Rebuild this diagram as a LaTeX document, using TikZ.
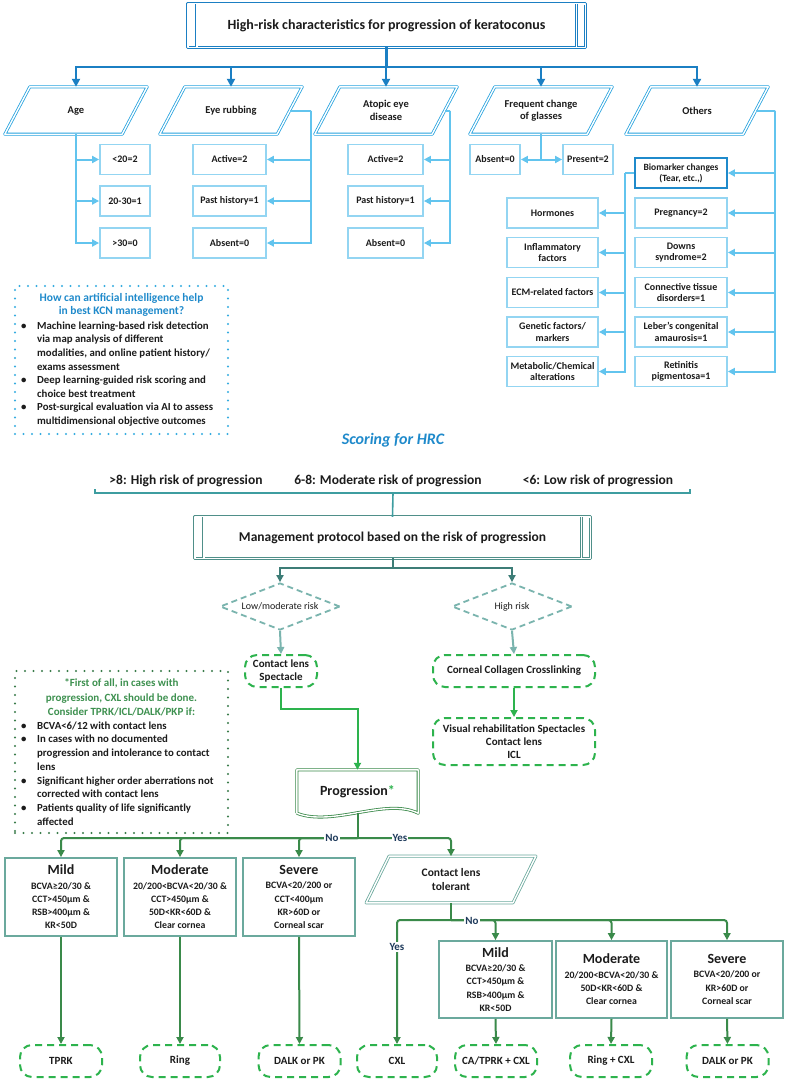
\documentclass[tikz,border=0pt]{standalone}
\usepackage{fontspec}
\setmainfont{Carlito}
\usetikzlibrary{arrows.meta,shapes.geometric,calc}
\definecolor{dblue}{HTML}{1B7FC3}
\definecolor{pblue}{HTML}{27A3DF}
\definecolor{lblue}{HTML}{93D5F2}
\definecolor{cblue}{HTML}{62C4EE}
\definecolor{tblue}{HTML}{1F8ACB}
\definecolor{aidot}{HTML}{35ACE0}
\definecolor{bteal}{HTML}{3E9DA0}
\definecolor{mgray}{HTML}{4F8F89}
\definecolor{dteal}{HTML}{3D7D77}
\definecolor{lteal}{HTML}{7AB4AE}
\definecolor{gdash}{HTML}{2DB34D}
\definecolor{gline}{HTML}{3A8A4A}
\definecolor{boxteal}{HTML}{6BA99D}
\definecolor{dgreen}{HTML}{3A7C4A}
\definecolor{tgreen}{HTML}{3E9150}
\definecolor{navy}{HTML}{1F3B5C}
\definecolor{txt}{HTML}{1C1C1C}
\newcommand\paradraw[3]{\draw[paraline=#2] (#1.south west) -- ([xshift=#3]#1.north west) -- (#1.north east) -- ([xshift=-#3]#1.south east) -- cycle;}
\newcommand\predefdraw[2]{%
  \draw[paraline=#2] (#1.north west) rectangle (#1.south east);
  \draw[paraline=#2] ([xshift=9pt]#1.north west) -- ([xshift=9pt]#1.south west);
  \draw[paraline=#2] ([xshift=-9pt]#1.north east) -- ([xshift=-9pt]#1.south east);}
\newcommand\bul{\makebox[16pt][l]{\textbullet}}
\newcommand\ind{\hspace*{16pt}}
\begin{document}
\begin{tikzpicture}[x=1pt,y=-1pt,
  paraline/.style={draw=#1, line width=.8pt, double=white, double distance=1.4pt, line join=round},
  para/.style={minimum width=142pt, minimum height=47pt, inner sep=0pt, align=center, font=\fontsize{10.5}{12.5}\selectfont\bfseries, text=txt},
  predef/.style={minimum height=#1, inner sep=0pt, align=center, text=txt},
  sbox/.style={draw=lblue, line width=1.8pt, fill=white, inner sep=1pt, align=center, font=\fontsize{10}{11.5}\selectfont\bfseries, text=txt, minimum height=30pt},
  darr/.style={draw=dblue, line width=2.2pt, -{Triangle[length=8pt,width=8pt]}},
  dline/.style={draw=dblue, line width=2.2pt},
  larr/.style={draw=cblue, line width=2pt, -{Triangle[length=7pt,width=7pt]}},
  lline/.style={draw=cblue, line width=2pt},
  dotbox/.style={draw=#1, line width=2.3pt, dash pattern=on 0pt off 8.5pt, line cap=round},
  tline/.style={draw=bteal, line width=1.6pt},
  marr/.style={draw=dteal, line width=2pt, -{Triangle[length=7pt,width=7pt]}},
  tarr/.style={draw=lteal, line width=2pt, -{Triangle[length=7pt,width=7pt]}},
  dia/.style={diamond, draw=lteal, line width=1.8pt, dash pattern=on 6pt off 4pt, aspect=2.55, inner sep=0pt, minimum width=120pt, minimum height=47pt, font=\fontsize{10}{12}\selectfont, text=txt},
  gdbox/.style={draw=gdash, line width=2pt, dash pattern=on 7pt off 5pt, rounded corners=12pt, align=center, font=\fontsize{11}{13}\selectfont\bfseries, text=txt, inner sep=1pt, minimum height=32pt},
  garr/.style={draw=gdash, line width=2pt, -{Triangle[length=7pt,width=7pt]}},
  bgarr/.style={draw=gline, line width=2pt, rounded corners=3pt, -{Triangle[length=7pt,width=7pt]}},
  bgline/.style={draw=gline, line width=2pt},
  rbox/.style={draw=boxteal, line width=1.8pt, align=center, inner sep=1pt, minimum height=78pt, font=\fontsize{9.8}{13.3}\selectfont\bfseries, text=txt},
  yn/.style={fill=white, inner sep=1pt, font=\fontsize{11}{12}\selectfont\bfseries, text=navy}
]
\useasboundingbox (0,0) rectangle (787,1082);
\fill[white] (0,0) rectangle (787,1082);

% ---------- Title ----------
\node[predef=43pt, minimum width=397pt, font=\fontsize{14}{16}\selectfont\bfseries] (title) at (386.5,25.5) {High-risk characteristics for progression of keratoconus};
\predefdraw{title}{dblue}

% ---------- Parallelograms ----------
\node[para] (age)  at (76,110.5)  {Age};
\node[para] (eye)  at (231,110.5) {Eye rubbing};
\node[para] (ato)  at (386,110.5) {Atopic eye\\disease};
\node[para] (freq) at (541,110.5) {Frequent change\\of glasses};
\node[para] (oth)  at (697,110.5) {Others};
\foreach \n in {age,eye,ato,freq,oth}{\paradraw{\n}{pblue}{25pt}}

\coordinate (tj) at (386.5,67);
\draw[dline] (title.south) -- (tj);
\foreach \n in {age,eye,ato,freq,oth}{\draw[darr] (tj) -| (\n.north);}

% ---------- Age ----------
\node[sbox, minimum width=50pt] (a1) at (125,159.5) {<20=2};
\node[sbox, minimum width=50pt] (a2) at (125,201) {20-30=1};
\node[sbox, minimum width=50pt] (a3) at (125,243) {>30=0};
\foreach \n in {a1,a2,a3}{\draw[larr] (age.south) |- (\n.west);}

% ---------- Eye rubbing ----------
\node[sbox, minimum width=73pt] (e1) at (229.5,159.5) {Active=2};
\node[sbox, minimum width=73pt] (e2) at (229.5,201) {Past history=1};
\node[sbox, minimum width=73pt] (e3) at (229.5,243) {Absent=0};
\coordinate (eyr) at (311,110.5);
\draw[lline] ([xshift=-12.5pt]eye.east) -- (eyr);
\foreach \n in {e1,e2,e3}{\draw[larr] (eyr) |- (\n.east);}

% ---------- Atopic ----------
\node[sbox, minimum width=75pt] (t1) at (385.5,159.5) {Active=2};
\node[sbox, minimum width=75pt] (t2) at (385.5,201) {Past history=1};
\node[sbox, minimum width=75pt] (t3) at (385.5,243) {Absent=0};
\coordinate (atr) at (450,110.5);
\draw[lline] ([xshift=-12.5pt]ato.east) -- (atr);
\foreach \n in {t1,t2,t3}{\draw[larr] (atr) |- (\n.east);}

% ---------- Frequent change ----------
\node[sbox, minimum width=50pt] (abs) at (495,159.5) {Absent=0};
\node[sbox, minimum width=50pt] (pres) at (588,159.5) {Present=2};
\coordinate (fj) at (541,159.5);
\draw[lline] (freq.south) -- (fj);
\draw[larr] (fj) -- (abs.east);
\draw[larr] (fj) -- (pres.west);

% ---------- Others ----------
\node[sbox, draw=tblue, minimum width=92pt, font=\fontsize{9.5}{11}\selectfont\bfseries] (bio) at (681,173) {Biomarker changes\\(Tear, etc.,)};
\node[sbox, minimum width=92pt] (preg) at (681,213) {Pregnancy=2};
\node[sbox, minimum width=92pt] (down) at (681,252.5) {Downs\\syndrome=2};
\node[sbox, minimum width=92pt] (conn) at (681,292.5) {Connective tissue\\disorders=1};
\node[sbox, minimum width=92pt] (leb) at (681,332) {Leber’s congenital\\amaurosis=1};
\node[sbox, minimum width=92pt] (ret) at (681,371.5) {Retinitis\\pigmentosa=1};
\coordinate (otr) at (775,110.5);
\draw[lline] ([xshift=-12.5pt]oth.east) -- (otr);
\foreach \n in {bio,preg,down,conn,leb,ret}{\draw[larr] (otr) |- (\n.east);}

\node[sbox, minimum width=91pt] (hor) at (552.5,213) {Hormones};
\node[sbox, minimum width=91pt] (inf) at (552.5,252.5) {Inflammatory\\factors};
\node[sbox, minimum width=91pt] (ecm) at (552.5,292.5) {ECM-related factors};
\node[sbox, minimum width=91pt] (gen) at (552.5,332) {Genetic factors/\\markers};
\node[sbox, minimum width=91pt] (met) at (552.5,371.5) {Metabolic/Chemical\\alterations};
\coordinate (bj) at (625,173);
\draw[lline] (bio.west) -- (bj);
\foreach \n in {hor,inf,ecm,gen,met}{\draw[larr] (bj) |- (\n.east);}

% ---------- AI box ----------
\node[dotbox=aidot, minimum width=213pt, minimum height=148pt] (ai) at (121.5,360) {};
\node[font=\fontsize{11.5}{13}\selectfont\bfseries, text=tblue, align=center, inner sep=0pt] (aititle) at (121.5,304.5) {How can artificial intelligence help\\in best KCN management?};
\node[anchor=north west, inner sep=0pt, align=left, font=\fontsize{10.8}{13.6}\selectfont\bfseries, text=txt] (aitext) at (21,321.5) {%
\bul Machine learning-based risk detection\\
\ind via map analysis of different\\
\ind modalities, and online patient history/\\
\ind exams assessment\\
\bul Deep learning-guided risk scoring and\\
\ind choice best treatment\\
\bul Post-surgical evaluation via AI to assess\\
\ind multidimensional objective outcomes};

% ---------- Scoring ----------
\node[font=\fontsize{16}{18}\selectfont\bfseries\itshape, text=tblue] (hrc) at (393,440) {Scoring for HRC};
\node[font=\fontsize{13.5}{15}\selectfont\bfseries, text=txt] (s1) at (186,481) {>8: High risk of progression};
\node[font=\fontsize{13.5}{15}\selectfont\bfseries, text=txt] (s2) at (388,481) {6-8: Moderate risk of progression};
\node[font=\fontsize{13.5}{15}\selectfont\bfseries, text=txt] (s3) at (598,481) {<6: Low risk of progression};
\coordinate (bl) at (95,493);
\coordinate (br) at (690,493);
\coordinate (bk) at (393,493);
\draw[tline] ([yshift=4pt]bl) -- (bl) -- (br) -- ([yshift=4pt]br);

\node[predef=41pt, minimum width=395pt, font=\fontsize{13.5}{15}\selectfont\bfseries] (mg) at (392.5,537.5) {Management protocol based on the risk of progression};
\predefdraw{mg}{mgray}
\draw[tline] (bk) -- (mg.north);

% ---------- Diamonds ----------
\node[dia] (lm) at (280,606.5) {Low/moderate risk};
\node[dia] (hr) at (512,606.5) {High risk};
\coordinate (mj) at (392.5,568);
\draw[draw=dteal, line width=2pt] (mg.south) -- (mj);
\draw[marr] (mj) -| (lm.north);
\draw[marr] (mj) -| (hr.north);

\node[gdbox, minimum width=72pt] (cls) at (281,671) {Contact lens\\Spectacle};
\node[gdbox, minimum width=162pt] (ccc) at (514,671) {Corneal Collagen Crosslinking};
\node[gdbox, minimum width=162pt, minimum height=47pt, inner sep=0pt] (vis) at (514,741.5) {Visual rehabilitation Spectacles\\Contact lens\\ICL};
\draw[tarr] (lm.south) -- (cls.north);
\draw[tarr] (hr.south) -- (ccc.north);
\draw[garr] (ccc.south) -- (vis.north);

% ---------- Progression ----------
\node[minimum width=121pt, minimum height=43pt, inner sep=0pt, font=\fontsize{14}{16}\selectfont\bfseries, text=txt] (prog) at (357.5,791.5) {\raisebox{2pt}{Progression\textcolor{gdash}{*}}};
\draw[paraline=gline] (prog.south west) -- (prog.north west) -- (prog.north east) -- (prog.south east) .. controls +(-32,-16) and +(36,14) .. (prog.south west);
\draw[garr] (cls.south) -- ++(0,21) -| (prog.north);

% ---------- First of all box ----------
\node[dotbox=dgreen, minimum width=213pt, minimum height=162pt] (fa) at (121.5,752) {};
\node[font=\fontsize{11}{14.5}\selectfont\bfseries, text=tgreen, align=center, inner sep=0pt] (fat) at (121.5,697.5) {*First of all, in cases with\\progression, CXL should be done.\\Consider TPRK/ICL/DALK/PKP if:};
\node[anchor=north west, inner sep=0pt, align=left, font=\fontsize{10.8}{13.7}\selectfont\bfseries, text=txt] (fab) at (21,721.5) {%
\bul BCVA<6/12 with contact lens\\
\bul In cases with no documented\\
\ind progression and intolerance to contact\\
\ind lens\\
\bul Significant higher order aberrations not\\
\ind corrected with contact lens\\
\bul Patients quality of life significantly\\
\ind affected};

% ---------- Lower left tree ----------
\coordinate (pj) at (357.5,838);
\draw[bgline] (prog.south) -- (pj);
\node[rbox, minimum width=112pt] (m1) at (61,897) {{\fontsize{14}{15}\selectfont Mild}\\[1pt]BCVA≥20/30 \&\\CCT>450µm \&\\RSB>400µm \&\\KR<50D};
\node[rbox, minimum width=112pt] (m2) at (180,897) {{\fontsize{14}{15}\selectfont Moderate}\\[1pt]20/200<BCVA<20/30 \&\\CCT>450µm \&\\50D<KR<60D \&\\Clear cornea};
\node[rbox, minimum width=112pt] (m3) at (299,897) {{\fontsize{14}{15}\selectfont Severe}\\[1pt]BCVA<20/200 or\\CCT<400µm\\KR>60D or\\Corneal scar};
\node[rbox, minimum width=168pt, minimum height=45pt, draw=none, font=\fontsize{11.5}{14}\selectfont\bfseries] (ct) at (451,879.5) {Contact lens\\tolerant};
\paradraw{ct}{boxteal}{23pt}
\foreach \n in {m1,m2,m3,ct}{\draw[bgarr] (pj) -| (\n.north);}
\node[yn] (no1) at (332,838) {No};
\node[yn] (yes1) at (400,838) {Yes};

\node[gdbox, minimum width=82pt] (tprk) at (61,1061) {TPRK};
\node[gdbox, minimum width=80pt] (ring) at (180,1061) {Ring};
\node[gdbox, minimum width=82pt] (dalk1) at (299.5,1061) {DALK or PK};
\node[gdbox, minimum width=80pt] (cxl) at (397,1061) {CXL};
\draw[bgarr] (m1.south) -- (tprk.north);
\draw[bgarr] (m2.south) -- (ring.north);
\draw[bgarr] (m3.south) -- (dalk1.north);

% ---------- Lower right tree ----------
\coordinate (cj) at (451,920);
\draw[bgline] (ct.south) -- (cj);
\node[rbox, minimum width=113pt, minimum height=77pt] (r1) at (495.5,979.5) {{\fontsize{14}{15}\selectfont Mild}\\[1pt]BCVA≥20/30 \&\\CCT>450µm \&\\RSB>400µm \&\\KR<50D};
\node[rbox, minimum width=111pt, minimum height=77pt] (r2) at (611.5,979.5) {{\fontsize{14}{15}\selectfont Moderate}\\[1pt]20/200<BCVA<20/30 \&\\50D<KR<60D \&\\Clear cornea};
\node[rbox, minimum width=112pt, minimum height=77pt] (r3) at (727,979.5) {{\fontsize{14}{15}\selectfont Severe}\\[1pt]BCVA<20/200 or\\KR>60D or\\Corneal scar};
\foreach \n in {cxl,r1,r2,r3}{\draw[bgarr] (cj) -| (\n.north);}
\node[yn] (no2) at (472,921) {No};
\node[yn] (yes2) at (397,947) {Yes};

\node[gdbox, minimum width=82pt] (catp) at (496,1061) {CA/TPRK + CXL};
\node[gdbox, minimum width=82pt] (ringc) at (611,1061) {Ring + CXL};
\node[gdbox, minimum width=82pt] (dalk2) at (727.5,1061) {DALK or PK};
\draw[bgarr] (r1.south) -- (catp.north);
\draw[bgarr] (r2.south) -- (ringc.north);
\draw[bgarr] (r3.south) -- (dalk2.north);
\end{tikzpicture}
\end{document}
